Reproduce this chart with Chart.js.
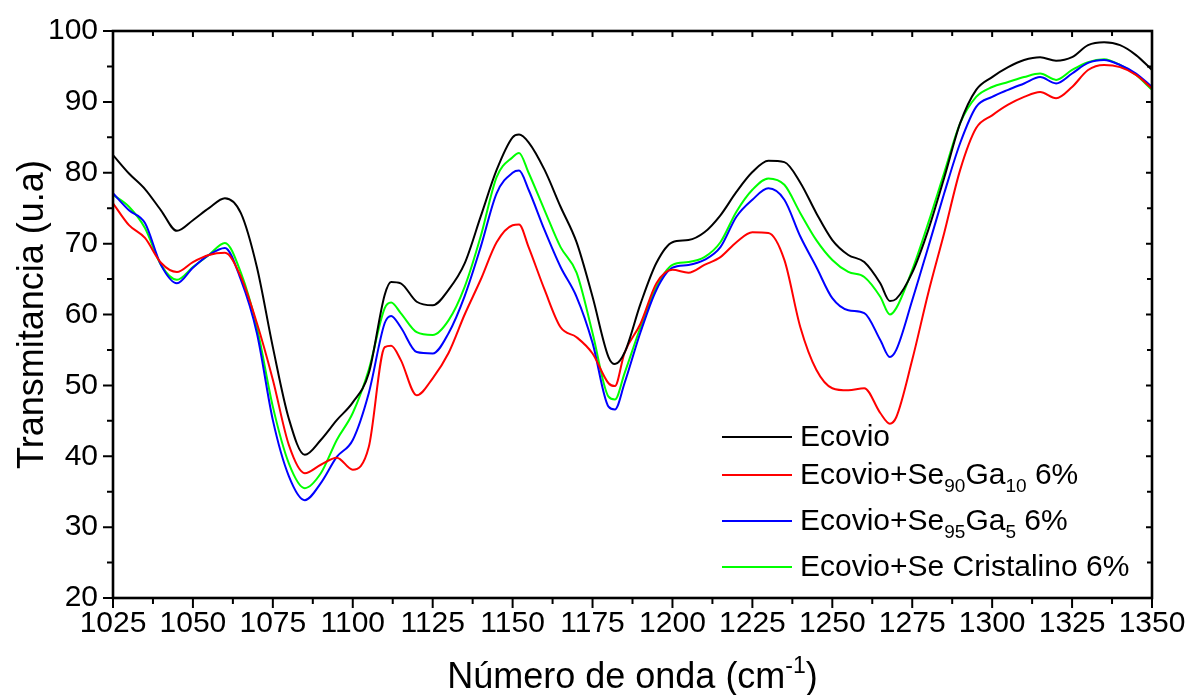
<!DOCTYPE html>
<html>
<head>
<meta charset="utf-8">
<script src="https://cdn.jsdelivr.net/npm/chart.js@4/dist/chart.umd.min.js"></script>
<style>
html,body{margin:0;padding:0;background:#fff;}
#wrap{width:1188px;height:695px;position:relative;}
</style>
</head>
<body>
<div id="wrap"><canvas id="c" width="1188" height="695"></canvas></div>
<script>
// ---- data ----
const wavenumbers = [1025,1030,1035,1040,1045,1050,1055,1060,1065,1070,1075,1080,1085,1090,1095,1100,1105,1110,1112,1115,1120,1125,1130,1135,1140,1145,1150,1152,1155,1160,1165,1170,1175,1180,1182,1185,1190,1195,1200,1205,1210,1215,1220,1225,1230,1235,1240,1245,1250,1255,1260,1265,1268,1270,1275,1280,1285,1290,1295,1300,1305,1310,1315,1320,1325,1330,1335,1340,1345,1350];

const ecovio = [82.5,79.9,77.7,74.7,71.8,73.3,75.0,76.4,74.3,66.7,55.4,45.3,40.2,42.3,45.1,47.6,51.7,62.8,64.6,64.4,61.8,61.3,63.5,67.2,73.8,80.4,85.0,85.4,84.3,80.4,75.2,70.2,62.5,54.0,53.0,54.6,61.5,67.3,70.2,70.5,71.6,74.0,77.3,80.1,81.7,81.5,78.6,74.3,70.5,68.4,67.4,64.4,61.9,62.2,65.9,71.9,79.3,87.0,91.7,93.5,94.9,95.9,96.3,95.8,96.3,98.0,98.4,98.0,96.6,94.5];

const se90ga10 = [75.7,72.6,70.8,67.3,66.0,67.4,68.4,68.7,65.3,58.8,50.8,41.6,37.6,38.8,39.8,38.1,41.3,55.4,55.6,53.6,48.6,51.0,54.6,60.0,64.9,70.2,72.6,72.7,69.5,63.5,58.2,56.8,54.5,50.3,49.9,54.6,58.7,64.4,66.3,65.9,67.0,68.1,70.2,71.6,71.5,67.7,58.2,52.2,49.6,49.3,49.6,46.1,44.6,45.5,53.6,63.0,71.5,80.4,86.3,88.1,89.6,90.7,91.4,90.5,92.1,94.5,95.2,94.9,93.8,91.9];

const se95ga5 = [77.1,74.7,72.9,67.0,64.4,66.6,68.4,69.4,64.9,57.4,45.1,37.2,33.8,36.2,39.9,42.3,48.9,58.8,59.8,58.2,54.7,54.5,57.4,62.6,69.5,77.1,80.0,80.3,77.6,71.9,66.7,62.5,56.0,47.0,46.6,50.3,57.5,63.5,66.6,67.0,67.7,69.5,73.8,76.2,77.8,76.2,71.0,66.7,62.3,60.6,60.2,56.4,54.0,55.0,62.0,69.5,77.1,84.2,89.3,90.7,91.7,92.6,93.5,92.6,94.0,95.5,95.9,95.2,94.0,92.1];

const seCristalino = [76.9,75.2,72.2,67.0,64.9,66.7,68.4,70.1,65.9,58.2,47.0,39.0,35.5,37.6,42.3,46.1,52.2,60.9,61.7,60.2,57.5,57.1,59.2,63.9,71.0,79.4,82.2,82.8,80.0,74.7,69.5,65.9,57.4,48.4,48.0,51.7,58.2,63.9,67.0,67.4,68.1,70.2,74.5,77.6,79.2,78.3,74.3,70.5,67.7,66.0,65.3,62.5,60.0,60.9,66.3,72.9,80.0,87.0,90.7,92.1,92.8,93.5,94.0,93.1,94.5,95.6,96.0,95.2,93.8,91.7];

const seriesLabels = ['Ecovio','Ecovio+Se_{90}Ga_{10} 6%','Ecovio+Se_{95}Ga_{5} 6%','Ecovio+Se Cristalino 6%'];
const seriesColors = ['#000000','#ff0000','#0000ff','#00ff00'];
const seriesValues = [ecovio, se90ga10, se95ga5, seCristalino];

const xTitle = 'Número de onda (cm^{-1})';
const yTitle = 'Transmitancia (u.a)';
const xMin = 1025, xMax = 1350, xStep = 25;
const yMin = 20, yMax = 100, yStep = 10;

// ---- helpers ----
const FONT = '"Liberation Sans", Arial, sans-serif';
function parseRich(s){
  const parts=[]; const re=/([_^])\{([^}]*)\}/g; let last=0,m;
  while((m=re.exec(s))){ if(m.index>last) parts.push({t:s.slice(last,m.index),mode:'n'}); parts.push({t:m[2],mode:m[1]==='_'?'sub':'sup'}); last=re.lastIndex; }
  if(last<s.length) parts.push({t:s.slice(last),mode:'n'});
  return parts;
}
function richWidth(ctx,parts,size,small){
  let w=0; parts.forEach(p=>{ctx.font=(p.mode==='n'?size:small)+'px '+FONT; w+=ctx.measureText(p.t).width;}); return w;
}
function drawRich(ctx,parts,x,y,size,small,subShift,supShift){
  let cx=x;
  parts.forEach(p=>{
    ctx.font=(p.mode==='n'?size:small)+'px '+FONT;
    let dy=0; if(p.mode==='sub') dy=subShift; if(p.mode==='sup') dy=-supShift;
    ctx.fillText(p.t,cx,y+dy); cx+=ctx.measureText(p.t).width;
  });
}

const decor = {
  id:'decor',
  afterDraw(chart){
    const ctx=chart.ctx, a=chart.chartArea, xs=chart.scales.x, ys=chart.scales.y;
    ctx.save();
    ctx.strokeStyle='#000'; ctx.lineWidth=2.6;
    ctx.strokeRect(a.left,a.top,a.right-a.left,a.bottom-a.top);
    ctx.lineWidth=2;
    ctx.beginPath();
    for(let v=xMin; v<=xMax+1e-6; v+=xStep/2){
      const px=xs.getPixelForValue(v); const major=Math.abs((v-xMin)%xStep)<1e-6;
      ctx.moveTo(px,a.bottom); ctx.lineTo(px,a.bottom+(major?10:6));
      ctx.moveTo(px,a.top); ctx.lineTo(px,a.top+(major?6:5));
    }
    for(let v=yMin; v<=yMax+1e-6; v+=yStep/2){
      const py=ys.getPixelForValue(v); const major=Math.abs((v-yMin)%yStep)<1e-6;
      ctx.moveTo(a.left,py); ctx.lineTo(a.left-(major?10:6),py);
      ctx.moveTo(a.right,py); ctx.lineTo(a.right-(major?6:5),py);
    }
    ctx.stroke();

    // axis titles
    ctx.fillStyle='#000'; ctx.textBaseline='alphabetic'; ctx.textAlign='left';
    const xp=parseRich(xTitle); const xw=richWidth(ctx,xp,36,23);
    drawRich(ctx,xp,(a.left+a.right)/2-xw/2,688,36,23,0,15);
    ctx.save();
    ctx.translate(43,(a.top+a.bottom)/2); ctx.rotate(-Math.PI/2);
    ctx.font='36px '+FONT; ctx.textAlign='center';
    ctx.fillText(yTitle,0,0);
    ctx.restore();

    // legend
    let ly=a.top+406; const lx1=722, lx2=792, tx=800;
    ctx.textAlign='left'; ctx.textBaseline='middle';
    chart.data.datasets.forEach((ds,i)=>{
      const parts=parseRich(ds.label);
      ctx.strokeStyle=ds.borderColor; ctx.lineWidth=2;
      ctx.beginPath(); ctx.moveTo(lx1,ly); ctx.lineTo(lx2,ly); ctx.stroke();
      ctx.fillStyle='#000';
      drawRich(ctx,parts,tx,ly+1,30,19,11,12);
      const hasSub=parts.some(p=>p.mode==='sub');
      ly += hasSub?46:38;
    });
    ctx.restore();
  }
};

const datasets = seriesValues.map((vals,i)=>({
  label: seriesLabels[i],
  data: wavenumbers.map((w,j)=>({x:w,y:vals[j]})),
  borderColor: seriesColors[i],
  backgroundColor: seriesColors[i],
  borderWidth: 2,
  pointRadius: 0,
  tension: 0.4,
  cubicInterpolationMode: 'monotone',
  fill: false
}));

new Chart(document.getElementById('c'),{
  type:'line',
  data:{datasets},
  options:{
    responsive:false, animation:false,
    layout:{padding:{top:31,right:36,left:0,bottom:0}},
    plugins:{legend:{display:false},tooltip:{enabled:false}},
    scales:{
      x:{type:'linear',min:xMin,max:xMax,
        grid:{display:false,drawTicks:false},border:{display:false},
        ticks:{stepSize:xStep,autoSkip:false,maxRotation:0,color:'#000',padding:8,
          callback:v=>String(v),
          font:{family:FONT,size:30}},
        afterFit(s){s.height=97; s.paddingRight=0; s.paddingLeft=0;}
      },
      y:{min:yMin,max:yMax,
        grid:{display:false,drawTicks:false},border:{display:false},
        ticks:{stepSize:yStep,color:'#000',padding:15,
          callback:v=>String(v),
          font:{family:FONT,size:30}},
        afterFit(s){s.width=113; s.paddingTop=0; s.paddingBottom=0;}
      }
    }
  },
  plugins:[decor]
});
</script>
</body>
</html>
